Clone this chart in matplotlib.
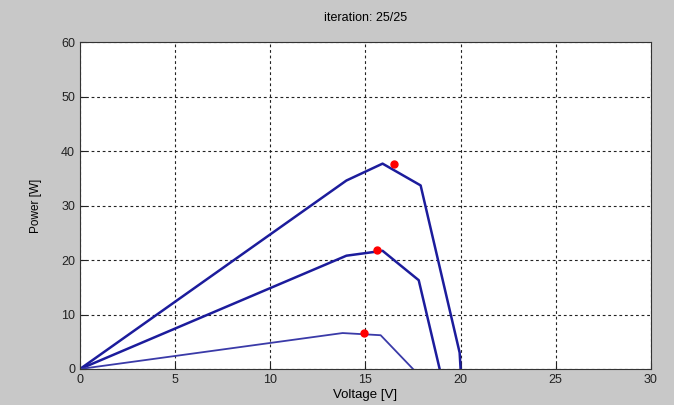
import numpy as np
import matplotlib.pyplot as plt

plt.rcParams["font.family"] = ["Liberation Sans", "DejaVu Sans"]

# P-V curves (voltage in V, power in W)
v_high = [0, 14.0, 15.9, 17.9, 19.95, 20.0]
p_high = [0, 34.6, 37.7, 33.7, 3.0, 0]

v_mid = [0, 14.0, 15.9, 17.8, 18.9]
p_mid = [0, 20.8, 21.7, 16.3, 0]

v_low = [0, 13.8, 15.8, 17.5]
p_low = [0, 6.6, 6.2, 0]

# red markers (operating points at final iteration)
mpp_v = [16.5, 15.6, 14.9]
mpp_p = [37.7, 21.9, 6.6]

x_ticks = [0, 5, 10, 15, 20, 25, 30]
y_ticks = [0, 10, 20, 30, 40, 50, 60]

fig = plt.figure(figsize=(6.74, 4.05), dpi=100, facecolor="#c8c8c8")
ax = fig.add_axes([0.1187, 0.0889, 0.847, 0.807])
ax.set_facecolor("white")

blue = "#1c1c9c"
ax.plot(v_high, p_high, color=blue, linewidth=1.8)
ax.plot(v_mid, p_mid, color=blue, linewidth=1.8)
ax.plot(v_low, p_low, color="#3a3aa8", linewidth=1.3)
ax.plot(mpp_v, mpp_p, "o", color="red", markersize=5, linestyle="none")

ax.set_xlim(0, 30)
ax.set_ylim(0, 60)
ax.set_xticks(x_ticks)
ax.set_yticks(y_ticks)
ax.grid(True, color="#222222", linestyle=(0, (2.5, 2.5)), linewidth=0.8)
ax.tick_params(direction="in", labelsize=9, length=4, colors="#222222")
for s in ax.spines.values():
    s.set_color("#333333")
    s.set_linewidth(0.8)

ax.set_xlabel("Voltage [V]", fontsize=9.5, labelpad=2)
ax.set_ylabel("Power [W]", fontsize=8.5, labelpad=14)
ax.set_title("iteration: 25/25", fontsize=9, pad=15)

fig.savefig("out.png", dpi=100, facecolor=fig.get_facecolor())
